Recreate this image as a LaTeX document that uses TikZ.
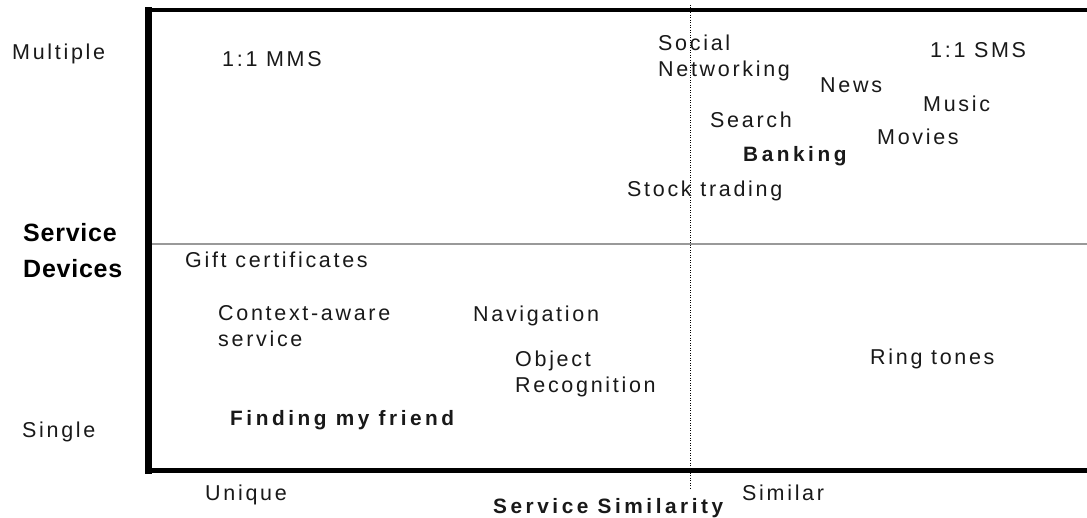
\documentclass[tikz,border=0pt]{standalone}
\usepackage{fontspec}
\setmainfont{Liberation Sans}
\newfontfamily\lblfont[LetterSpace=12.5]{Liberation Sans}
\newfontfamily\boldlblfont[LetterSpace=17]{Liberation Sans Bold}
\newfontfamily\axisfont[LetterSpace=3]{Liberation Sans Bold}
\begin{document}
\begin{tikzpicture}[x=1pt,y=-1pt,
  frameline/.style={line width=5pt,line cap=rect},
  lbl/.style={anchor=base west,inner sep=0pt,align=left,text=black!90,
    font=\lblfont\fontsize{21.5}{26.5}\selectfont},
  boldlbl/.style={lbl,font=\boldlblfont\fontsize{20.8}{26}\selectfont},
  axislbl/.style={anchor=base west,inner sep=0pt,align=left,
    font=\axisfont\fontsize{25}{36}\selectfont}]
  \useasboundingbox (0,0) rectangle (1087,518);
  \fill[white] (0,0) rectangle (1087,518);

  % frame corners
  \coordinate (tl) at (148.5,10);
  \coordinate (tr) at (1087,10);
  \coordinate (bl) at (148.5,470.5);
  \coordinate (br) at (1087,470.5);

  % quadrant dividers
  \draw[gray!80,line width=1.3pt] (148.5,244) -- (1087,244);
  \draw[black,line width=1pt,dash pattern=on 1pt off 1.5pt] (690,5) -- (690,489);

  % thick axis frame (open on the right)
  \draw[frameline,line width=4.5pt] (tl) -- (tr);
  \draw[frameline] (bl) -- (br);
  \draw[frameline,line width=6.5pt] (tl) -- (bl);

  % vertical axis (multi-line nodes sit on the baseline of their last line)
  \node[lbl] (multiple) at (12,60) {Multiple};
  \node[lbl] (single) at (22,438) {Single};
  \node[axislbl] (devices) at (23,278) {Service\\Devices};

  % horizontal axis
  \node[lbl] (unique) at (205,500) {Unique};
  \node[lbl] (similar) at (742,500) {Similar};
  \node[boldlbl] (similarity) at (493,513) {Service Similarity};

  % services, upper half
  \node[lbl] (mms) at (222,67) {1:1 MMS};
  \node[lbl] (social) at (658,77) {Social\\Networking};
  \node[lbl] (sms) at (930,58) {1:1 SMS};
  \node[lbl] (news) at (820,93) {News};
  \node[lbl] (music) at (923,112) {Music};
  \node[lbl] (search) at (710,128) {Search};
  \node[lbl] (movies) at (877,145) {Movies};
  \node[boldlbl] (banking) at (743,162) {Banking};
  \node[lbl] (stock) at (627,197) {Stock trading};

  % services, lower half
  \node[lbl] (gift) at (185,268) {Gift certificates};
  \node[lbl] (context) at (218,347) {Context-aware\\service};
  \node[lbl] (navigation) at (473,322) {Navigation};
  \node[lbl] (object) at (515,393) {Object\\Recognition};
  \node[lbl] (ring) at (870,365) {Ring tones};
  \node[boldlbl] (friend) at (230,425) {Finding my friend};
\end{tikzpicture}
\end{document}
